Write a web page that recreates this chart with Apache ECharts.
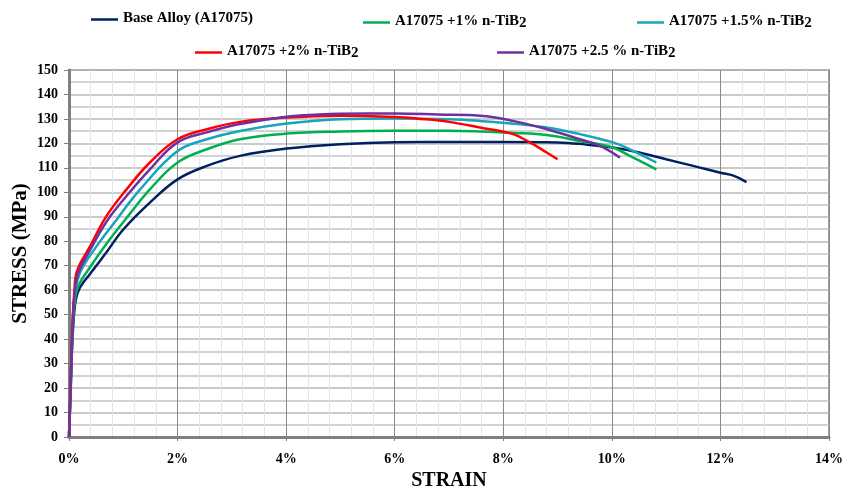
<!DOCTYPE html>
<html>
<head>
<meta charset="utf-8">
<script src="https://cdn.jsdelivr.net/npm/echarts@6/dist/echarts.min.js"></script>
<style>html,body{margin:0;padding:0;background:#fff}#c{width:845px;height:488px}</style>
</head>
<body>
<div id="c"></div>
<script>
var seriesNames = ["Base Alloy (A17075)", "A17075 +1% n-TiB2", "A17075 +1.5% n-TiB2", "A17075 +2% n-TiB2", "A17075 +2.5 % n-TiB2"];
var legendLabels = ["Base Alloy (A17075)", "A17075 +1% n-TiB{s|2}", "A17075 +1.5% n-TiB{s|2}", "A17075 +2% n-TiB{s|2}", "A17075 +2.5 % n-TiB{s|2}"];
var colors = ["#002060", "#00b050", "#17a5b8", "#ff0000", "#7030a0"];

var baseStrain = [0,0.03,0.06,0.1,0.14,0.2,0.26,0.4,0.69,1.0,1.49,2.0,2.54,3.15,4.01,5.0,6.0,7.0,8.0,9.0,9.5,10.02,10.5,11.0,11.5,12.0,12.24,12.48];
var baseStress = [0,18,38,52,57.5,61,63,67,75.5,84.8,95.8,105.3,110.8,114.9,117.9,119.7,120.5,120.6,120.6,120.4,119.6,118.3,116.3,113.5,110.8,108,106.8,104.2];

var tib1Strain = [0,0.03,0.06,0.1,0.17,0.39,0.69,1.06,1.49,2.0,2.54,3.15,4.01,5.0,6.0,7.0,7.57,8.2,8.8,9.41,10.02,10.33,10.82];
var tib1Stress = [0,20,40,54,61.6,69.5,79,89.5,101.2,112.2,117.6,121.7,124,124.9,125.2,125.2,124.9,124.3,123.4,121,118.3,114.9,109.4];

var tib15Strain = [0,0.03,0.06,0.1,0.2,0.51,0.88,1.31,2.0,2.54,3.15,4.01,5.0,6.0,7.0,7.57,8.2,8.8,9.41,10.02,10.33,10.82];
var tib15Stress = [0,20,40,56,67,78,88.9,101.2,116.9,121.7,125.1,128.1,129.9,130.2,129.9,129.2,128,126.5,123.8,120.4,117.6,112.2];

var tib2Strain = [0,0.03,0.06,0.1,0.15,0.39,0.69,1.06,1.49,2.0,2.54,3.15,4.01,5.0,6.0,6.5,7.0,7.57,8.18,8.49,8.8,9.0];
var tib2Stress = [0,22,44,60,68,78,90.3,101.2,112.2,121.7,125.8,128.8,130.6,131.3,130.8,130,128.8,126.5,123.8,120.4,116.3,113.5];

var tib25Strain = [0,0.03,0.06,0.1,0.17,0.39,0.69,1.06,1.49,2.0,2.54,3.15,4.01,4.6,5.0,6.0,6.8,7.57,8.18,8.8,9.41,9.78,10.15];
var tib25Stress = [0,21,42,58,67,76.5,88,98.5,109.4,120.4,124.5,127.9,130.9,131.8,132.1,132.2,131.8,131.3,129.2,125.8,121.7,119,114.2];

var xTicks = [0,2,4,6,8,10,12,14];

var strains = [baseStrain, tib1Strain, tib15Strain, tib2Strain, tib25Strain];
var stresses = [baseStress, tib1Stress, tib15Stress, tib2Stress, tib25Stress];

function pair(xs, ys){ return xs.map(function(x,i){ return [x, ys[i]]; }); }

var FONT = "Liberation Serif";
var legendPos = [[86,6],[358,6],[632,6],[190,36],[492,36]];
var legends = seriesNames.map(function(n,i){
  return {
    left: legendPos[i][0], top: legendPos[i][1],
    data: [n], icon: 'rect', itemWidth: 27, itemHeight: 2.5, itemGap: 4,
    selectedMode: false,
    formatter: function(){
      var t = legendLabels[i];
      var k = t.indexOf('{s|2}');
      if (k < 0) return '{a|' + t + '}';
      return '{a|' + t.slice(0,k) + '}{s|2}';
    },
    textStyle: {
      fontFamily: FONT, fontWeight: 'bold', fontSize: 15, color: '#000',
      rich: {
        a: {fontFamily: FONT, fontWeight: 'bold', fontSize: 15, color: '#000', verticalAlign: 'top', lineHeight: 17},
        s: {fontFamily: FONT, fontWeight: 'bold', fontSize: 15, color: '#000', verticalAlign: 'bottom', lineHeight: 17, padding: [5,0,0,0]}
      }
    }
  };
});

var chart = echarts.init(document.getElementById('c'), null, {renderer: 'canvas'});
chart.setOption({
  animation: false,
  backgroundColor: '#fff',
  legend: legends,
  grid: {left: 69, right: 16, top: 70, bottom: 51, show: true, borderColor: '#a0a0a0', borderWidth: 2, containLabel: false, outerBoundsMode: 'none'},
  xAxis: {
    type: 'value', min: 0, max: 14, interval: 2,
    name: 'STRAIN', nameLocation: 'middle', nameGap: 34, nameMoveOverlap: false,
    nameTextStyle: {fontFamily: FONT, fontWeight: 'bold', fontSize: 20, color: '#000'},
    axisLine: {show: true, lineStyle: {color: '#808080', width: 3}},
    axisTick: {show: true, length: 4, lineStyle: {color: '#808080', width: 1}},
    axisLabel: {fontFamily: FONT, fontWeight: 'bold', fontSize: 14, color: '#000', margin: 15,
      formatter: function(v){ return xTicks.indexOf(v) >= 0 ? v + '%' : ''; }},
    splitLine: {show: true, lineStyle: {color: '#8a8a8a', width: 1}},
    minorTick: {show: false, splitNumber: 5},
    minorSplitLine: {show: true, lineStyle: {color: '#dde7f3', width: 1}}
  },
  yAxis: {
    type: 'value', min: 0, max: 150, interval: 10,
    name: 'STRESS (MPa)', nameLocation: 'middle', nameGap: 38, nameRotate: 90, nameMoveOverlap: false,
    nameTextStyle: {fontFamily: FONT, fontWeight: 'bold', fontSize: 21, color: '#000'},
    axisLine: {show: true, lineStyle: {color: '#808080', width: 3}},
    axisTick: {show: true, length: 5, lineStyle: {color: '#808080', width: 1}},
    axisLabel: {fontFamily: FONT, fontWeight: 'bold', fontSize: 14, color: '#000', margin: 11},
    splitLine: {show: true, lineStyle: {color: '#b8b8b8', width: 1.5}},
    minorTick: {show: false, splitNumber: 2},
    minorSplitLine: {show: true, lineStyle: {color: '#c4c4c4', width: 1.5}}
  },
  series: seriesNames.map(function(n,i){
    return {
      name: n, type: 'line', data: pair(strains[i], stresses[i]),
      showSymbol: false, smooth: 0.4,
      lineStyle: {color: colors[i], width: 2.5},
      itemStyle: {color: colors[i]}
    };
  })
});
</script>
</body>
</html>
